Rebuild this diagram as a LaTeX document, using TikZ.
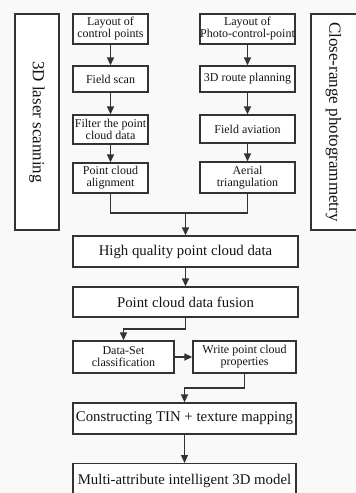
\documentclass[tikz,border=0pt]{standalone}
\usepackage{fontspec}
\setmainfont{Liberation Serif}
\usetikzlibrary{arrows.meta}
\definecolor{inkline}{HTML}{333333}
\definecolor{inktext}{HTML}{141414}
\definecolor{paper}{HTML}{F9F9F9}
\tikzset{
  box/.style={draw=inkline, line width=1.3pt, fill=white, text=inktext,
    inner sep=0pt, align=center, rectangle},
  smallbox/.style={box, font=\fontsize{12}{12}\selectfont},
  bigbox/.style={box, font=\fontsize{14.8}{15}\selectfont},
  sidebox/.style={box, font=\fontsize{17}{17}\selectfont},
  link/.style={draw=inkline, line width=1.3pt},
  arr/.style={link, -{Triangle[length=8pt,width=7pt]}}
}
\begin{document}
\begin{tikzpicture}[x=1pt, y=-1pt]
  \fill[paper] (0,0) rectangle (356,493);
  \useasboundingbox (0,0) rectangle (356,493);

  % side labels
  \node[sidebox, minimum width=44pt, minimum height=216pt] (lsr) at (37,122) {};
  \node[rotate=-90, text=inktext, font=\fontsize{17}{17}\selectfont] (lsrt) at (37,122) {3D laser scanning};
  \node[sidebox, minimum width=47pt, minimum height=216pt] (crp) at (334.5,122) {};
  \node[rotate=-90, text=inktext, font=\fontsize{17}{17}\selectfont] (crpt) at (333.5,122) {Close-range photogrammetry};

  % laser scanning branch
  \node[smallbox, minimum width=75pt, minimum height=30pt] (lay1) at (110.5,29) {Layout of\\control points};
  \node[smallbox, minimum width=75pt, minimum height=26pt] (scan) at (110.5,79) {Field scan};
  \node[smallbox, minimum width=75pt, minimum height=29pt] (filt) at (110.5,129.5) {Filter the point\\cloud data};
  \node[smallbox, minimum width=75pt, minimum height=30pt] (algn) at (110.5,178) {Point cloud\\alignment};

  % photogrammetry branch
  \node[smallbox, minimum width=95pt, minimum height=30pt] (lay2) at (247.5,29) {Layout of\\Photo-control-point};
  \node[smallbox, minimum width=95pt, minimum height=26pt] (route) at (247.5,79) {3D route planning};
  \node[smallbox, minimum width=95pt, minimum height=28pt] (avia) at (247.5,129) {Field aviation};
  \node[smallbox, minimum width=95pt, minimum height=31pt] (aer) at (247.5,177.5) {Aerial\\triangulation};

  % main chain
  \node[bigbox, minimum width=225pt, minimum height=31pt] (hq) at (185.5,251.5) {High quality point cloud data};
  \node[bigbox, minimum width=225pt, minimum height=30pt] (fus) at (185.5,302) {Point cloud data fusion};
  \node[smallbox, minimum width=101pt, minimum height=32pt] (ds) at (123.5,357) {Data-Set\\classification};
  \node[smallbox, minimum width=103pt, minimum height=32pt] (wr) at (244.5,357) {Write point cloud\\properties};
  \node[bigbox, minimum width=223pt, minimum height=31pt] (tin) at (184.5,418.5) {Constructing TIN + texture mapping};
  \node[bigbox, minimum width=223pt, minimum height=34pt, anchor=north] (mod) at (184.5,463) {Multi-attribute intelligent 3D model};

  % junction points
  \coordinate (j) at (185.5,213);
  \coordinate (k) at (185.5,329);
  \coordinate (l) at (244.5,388);

  % connectors
  \draw[arr] (lay1) -- (scan);
  \draw[arr] (scan) -- (filt);
  \draw[arr] (filt) -- (algn);
  \draw[arr] (lay2) -- (route);
  \draw[arr] (route) -- (avia);
  \draw[arr] (avia) -- (aer);
  \draw[link] (algn.south) |- (j) -| (aer.south);
  \draw[arr] (j) -- (hq.north);
  \draw[arr] (hq) -- (fus);
  \draw[arr] (fus.south) -- (k) -| (ds.north);
  \draw[arr] (ds) -- (wr);
  \draw[arr] (wr.south) -- (l) -| (tin.north);
  \draw[arr] (tin) -- (mod);
\end{tikzpicture}
\end{document}
